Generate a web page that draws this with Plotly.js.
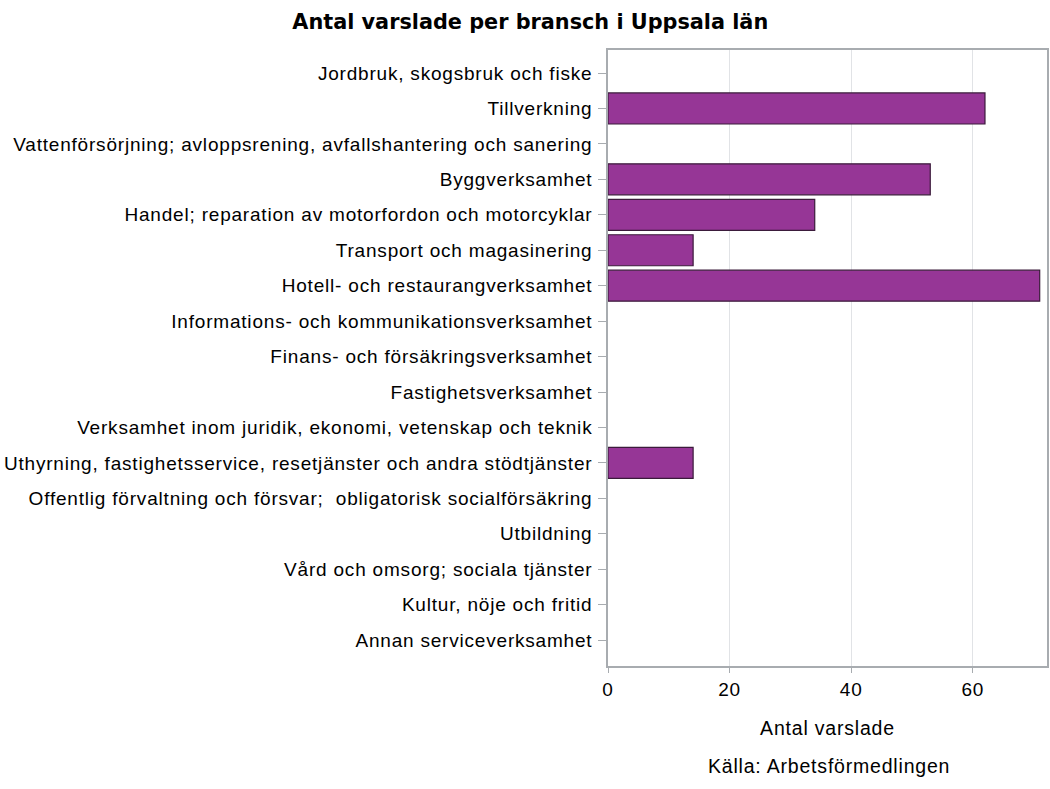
<!DOCTYPE html>
<html>
<head>
<meta charset="utf-8">
<script src="https://cdn.plot.ly/plotly-3.0.1.min.js"></script>
<style>
  html, body { margin: 0; padding: 0; background: #fff; }
  #chart { width: 1050px; height: 789px; }
  /* the source chart has loose, thin text */
  #chart .ytick text, #chart .xtick text, #chart .xtitle, #chart .annotation-text { letter-spacing: 0.8px; }
</style>
</head>
<body>
<div id="chart"></div>
<script>
'use strict';

const branscher = [
    "Jordbruk, skogsbruk och fiske",
    "Tillverkning",
    "Vattenförsörjning; avloppsrening, avfallshantering och sanering",
    "Byggverksamhet",
    "Handel; reparation av motorfordon och motorcyklar",
    "Transport och magasinering",
    "Hotell- och restaurangverksamhet",
    "Informations- och kommunikationsverksamhet",
    "Finans- och försäkringsverksamhet",
    "Fastighetsverksamhet",
    "Verksamhet inom juridik, ekonomi, vetenskap och teknik",
    "Uthyrning, fastighetsservice, resetjänster och andra stödtjänster",
    "Offentlig förvaltning och försvar;  obligatorisk socialförsäkring",
    "Utbildning",
    "Vård och omsorg; sociala tjänster",
    "Kultur, nöje och fritid",
    "Annan serviceverksamhet"
];
const varslade = [0, 62, 0, 53, 34, 14, 71, 0, 0, 0, 0, 14, 0, 0, 0, 0, 0];
const x_ticks = [0, 20, 40, 60];

const font = "Liberation Sans, Arial, sans-serif";

let data = [{
    type: "bar",
    orientation: "h",
    y: branscher,
    x: varslade,
    width: 0.875,
    marker: {
        color: "#963696",
        // no outline on empty bars
        line: { color: "#3b1b3b", width: varslade.map(v => v > 0 ? 1.2 : 0) }
    },
    hoverinfo: "x+y"
}];

let layout = {
    width: 1050,
    height: 789,
    margin: { l: 608, r: 3, t: 50, b: 123 },
    paper_bgcolor: "#ffffff",
    plot_bgcolor: "#ffffff",
    showlegend: false,
    title: {
        text: "<b>Antal varslade per bransch i Uppsala län</b>",
        font: { family: "DejaVu Sans, Verdana, sans-serif", size: 20.8, color: "#000000" },
        x: 0.505, xanchor: "center", y: 0.973, yanchor: "middle"
    },
    xaxis: {
        range: [0, 72.2],
        tickvals: x_ticks,
        ticktext: x_ticks.map(String),
        showgrid: true,
        gridcolor: "#e1e3e6",
        gridwidth: 1,
        zeroline: false,
        showline: true,
        linecolor: "#a8acb0",
        linewidth: 1.5,
        mirror: true,
        ticks: "outside",
        ticklen: 5,
        tickcolor: "#a8acb0",
        tickfont: { family: font, size: 19, color: "#000000" },
        title: { text: "Antal varslade", font: { family: font, size: 19.5, color: "#000000" }, standoff: 23 }
    },
    yaxis: {
        type: "category",
        categoryorder: "array",
        categoryarray: branscher,
        range: [16.73, -0.65],
        showgrid: false,
        zeroline: false,
        showline: true,
        linecolor: "#a8acb0",
        linewidth: 1.5,
        mirror: true,
        ticks: "outside",
        ticklen: 8,
        tickcolor: "#a8acb0",
        ticklabelstandoff: 2,
        tickfont: { family: font, size: 19, color: "#000000" }
    },
    annotations: [{
        text: "Källa: Arbetsförmedlingen",
        xref: "paper", yref: "paper",
        x: 0.503, y: -0.162,
        xanchor: "center", yanchor: "middle",
        showarrow: false,
        font: { family: font, size: 19.5, color: "#000000" }
    }]
};

Plotly.newPlot("chart", data, layout, { displayModeBar: false });
</script>
</body>
</html>
